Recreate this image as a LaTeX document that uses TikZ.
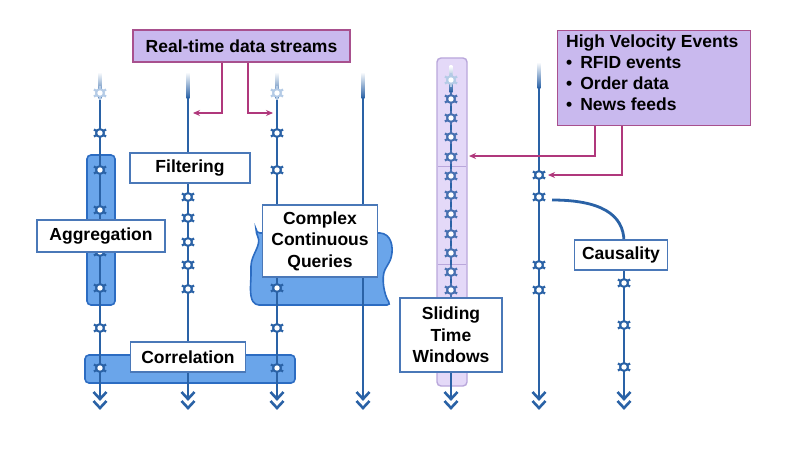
\documentclass[tikz,border=0pt]{standalone}
\usepackage{fontspec}
\setmainfont{Liberation Sans}
\usetikzlibrary{arrows.meta}
\definecolor{strm}{HTML}{2A62A6}
\definecolor{strmf}{HTML}{B4CBE6}
\definecolor{band}{HTML}{6AA5EA}
\definecolor{bandb}{HTML}{2C6CC2}
\definecolor{lab}{HTML}{4A78B8}
\definecolor{pur}{HTML}{C9B9EE}
\definecolor{purb}{HTML}{A8508E}
\definecolor{slide}{HTML}{E4D9F8}
\definecolor{slideb}{HTML}{B9A7DB}
\definecolor{pnk}{HTML}{B0387C}
\tikzset{
  evbase/.style={line width=2.2pt},
  pics/ev/.style={code={
    \foreach \a in {30,90,...,330}{\draw[evbase,#1] (0,0) -- (\a:7pt);}
    \fill[#1] (0,0) circle (5pt);
    \fill[white] (0,0) circle (2.7pt);}},
  lbl/.style={draw=lab, line width=1.6pt, fill=white, inner sep=0pt, align=center},
  pbox/.style={draw=purb, line width=1.4pt, fill=pur, inner sep=0pt},
  sline/.style={draw=strm, line width=2.8pt},
  parr/.style={draw=pnk, line width=1.6pt, -{Stealth[length=7pt,width=6pt]}},
  chev/.style={draw=strm, line width=2.6pt, line join=miter},
  bandst/.style={draw=bandb, line width=1.6pt, fill=band, rounded corners=4pt, inner sep=0pt},
}
\newcommand\streamto[3]{% x, top y, bottom y
  \shade[top color=white, bottom color=strm] (#1-1.4,#2) rectangle (#1+1.4,#2+26);
  \coordinate (t#1) at (#1,#2+25);
  \coordinate (b#1) at (#1,#3);
  \draw[sline] (t#1) -- (b#1);
}
\newcommand\chevs[1]{%
  \draw[chev] (#1-6.5,392) -- (#1,399) -- (#1+6.5,392);
  \draw[chev] (#1-6.5,401) -- (#1,408) -- (#1+6.5,401);
}
\begin{document}
\begin{tikzpicture}[x=1pt,y=-1pt, font=\bfseries\fontsize{17.5}{21.5}\selectfont]
\useasboundingbox[fill=white] (0,0) rectangle (792,452);

% bands
\node[bandst, minimum width=28pt, minimum height=150pt] (aggband) at (101,230) {};
\node[bandst, minimum width=210pt, minimum height=28pt] (corband) at (190,369) {};
\path[bandst] (256,233) -- (384,233) .. controls (394,242) and (393,256) .. (387,266)
   .. controls (381,277) and (384,295) .. (391,305) -- (255,305)
   .. controls (249,295) and (251,283) .. (251,270) .. controls (251,255) and (262,245) .. (256,233) -- cycle;
\node[draw=slideb, line width=1.4pt, fill=slide, rounded corners=4pt, minimum width=30pt, minimum height=328pt, inner sep=0pt] (slidecol) at (452,222) {};
\draw[slideb, line width=1pt] (438,166) -- (466,166);
\draw[slideb, line width=1pt] (438,264) -- (466,264);

% streams
\streamto{100}{72}{397}
\streamto{188}{72}{397}
\streamto{277}{72}{397}
\streamto{363}{72}{397}
\streamto{451}{66}{397}
\streamto{539}{62}{397}
\coordinate (c7top) at (624,262);
\coordinate (c7bot) at (624,397);
\draw[sline] (c7top) -- (c7bot);
\foreach \x in {100,188,277,363,451,539,624}{\chevs{\x}}

% events
\pic at (100,93) {ev=strmf};
\foreach \y in {133,170,210,252,288,328,368}{\pic at (100,\y) {ev=strm};}
\foreach \y in {197,218,242,265,289}{\pic at (188,\y) {ev=strm};}
\pic at (277,93) {ev=strmf};
\foreach \y in {133,170,288,328,368}{\pic at (277,\y) {ev=strm};}
\pic at (451,80) {ev=strmf};
\foreach \y in {99,118,137,157,176,195,214,234,253,272,290}{\pic at (451,\y) {ev=strm!80!slideb};}
\foreach \y in {175,197,265,290}{\pic at (539,\y) {ev=strm};}
\foreach \y in {283,325,367}{\pic at (624,\y) {ev=strm};}

% causality curve
\coordinate (cstart) at (552,200);
\draw[sline] (cstart) .. controls (600,200) and (624,214) .. (624,242);

% labels
\node[lbl, minimum width=120pt, minimum height=30pt] (filt) at (190,168) {Filtering};
\node[lbl, minimum width=128pt, minimum height=32pt] (aggr) at (101,236) {Aggregation};
\node[lbl, minimum width=115pt, minimum height=72pt] (cq) at (320,241) {Complex\\Continuous\\Queries};
\node[lbl, minimum width=115pt, minimum height=30pt] (corr) at (188,357) {Correlation};
\node[lbl, minimum width=102pt, minimum height=74pt] (slw) at (451,335) {Sliding\\Time\\Windows};
\node[lbl, minimum width=93pt, minimum height=30pt] (caus) at (621,255) {Causality};

% purple boxes
\node[pbox, minimum width=217pt, minimum height=32pt] (rt) at (241.5,46) {Real-time data streams};
\node[pbox, minimum width=193pt, minimum height=95pt, anchor=north west] (hv) at (557,30) {};
\node[anchor=north west, align=left, inner sep=0pt, font=\bfseries\fontsize{17.5}{21}\selectfont] (hvt) at (566,35) {High Velocity Events\\
\textbullet\hspace{8pt}RFID events\\
\textbullet\hspace{8pt}Order data\\
\textbullet\hspace{8pt}News feeds};

% pink arrows
\coordinate (pa) at (193,113);
\coordinate (pb) at (273,113);
\coordinate (pc) at (469,156);
\coordinate (pd) at (548,175);
\draw[parr] (222,0 |- rt.south) -- (222,113) -- (pa);
\draw[parr] (248,0 |- rt.south) -- (248,113) -- (pb);
\draw[parr] (595,0 |- hv.south) -- (595,156) -- (pc);
\draw[parr] (622,0 |- hv.south) -- (622,175) -- (pd);
\end{tikzpicture}
\end{document}
